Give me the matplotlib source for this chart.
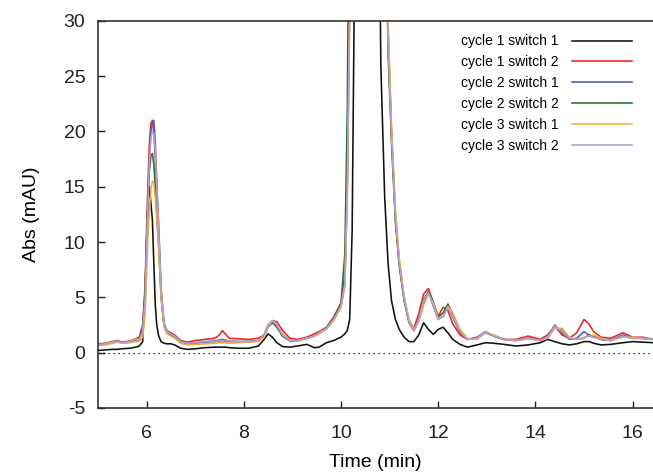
import matplotlib
matplotlib.use("Agg")
import matplotlib.pyplot as plt

plt.rcParams['font.family'] = ['Liberation Sans', 'DejaVu Sans']

# retention time (min), shared by all traces
time = [5.0, 5.15, 5.3, 5.4, 5.5, 5.65, 5.78,
        5.85, 5.92, 5.97, 6.0, 6.03, 6.06, 6.09, 6.12, 6.15, 6.18, 6.21, 6.25, 6.3, 6.36, 6.42,
        6.5, 6.58, 6.7, 6.85, 7.0, 7.2, 7.4, 7.5, 7.56, 7.62, 7.7, 7.9, 8.1, 8.3,
        8.42, 8.5, 8.59, 8.68, 8.8, 8.95, 9.1,
        9.3, 9.45, 9.55, 9.7, 9.85, 10.0, 10.08, 10.13, 10.18, 10.23, 10.28,
        10.35, 10.45, 10.55, 10.65, 10.75,
        10.82, 10.9, 10.97, 11.04, 11.12, 11.2, 11.3, 11.4, 11.5,
        11.6, 11.7, 11.8, 11.9, 12.0, 12.1, 12.2, 12.3, 12.45, 12.6, 12.8, 12.97, 13.15, 13.35,
        13.6, 13.85, 14.1, 14.25, 14.4, 14.55, 14.7, 14.85, 15.0, 15.1, 15.2, 15.35, 15.55,
        15.8, 16.0, 16.2, 16.45]

c1s1 = [0.2, 0.25, 0.3, 0.3, 0.35, 0.4, 0.5,
        0.6, 1.0, 5.5, 10.0, 13.5, 15.0, 13.5, 12.0, 8.0, 4.3, 2.5, 1.5, 1.0, 0.85, 0.8,
        0.8, 0.7, 0.4, 0.3, 0.35, 0.45, 0.5, 0.5, 0.5, 0.5, 0.45, 0.4, 0.4, 0.6,
        1.2, 1.7, 1.4, 0.9, 0.55, 0.5, 0.6,
        0.75, 0.45, 0.5, 0.9, 1.1, 1.4, 1.7, 2.0, 3.0, 11.0, 35.0,
        80.0, 120.0, 130.0, 100.0, 60.0,
        26.0, 14.0, 8.0, 4.7, 3.0, 2.1, 1.4, 1.0, 1.0,
        1.6, 2.7, 2.1, 1.65, 2.1, 2.3, 1.8, 1.2, 0.75, 0.5, 0.7, 0.9, 0.85, 0.75,
        0.6, 0.7, 0.9, 1.2, 1.0, 0.8, 0.7, 0.8, 1.0, 1.0, 0.85, 0.7, 0.75,
        0.9, 1.0, 0.95, 0.9]

c1s2 = [0.8, 0.85, 1.0, 1.1, 0.95, 1.05, 1.25,
        1.4, 2.5, 6.0, 11.0, 15.5, 19.0, 20.7, 21.0, 20.0, 17.5, 14.5, 10.5, 5.2, 2.5, 1.9,
        1.8, 1.6, 1.1, 0.95, 1.1, 1.2, 1.3, 1.6, 2.0, 1.7, 1.3, 1.25, 1.2, 1.3,
        1.6, 2.4, 2.9, 2.8, 2.0, 1.3, 1.2,
        1.4, 1.7, 1.9, 2.3, 3.2, 4.5, 7.0, 15.0, 35.0, 65.0, 100.0,
        130.0, 160.0, 170.0, 150.0, 112.0,
        76.0, 46.0, 29.0, 20.0, 12.5, 8.2, 4.9, 2.9, 2.2,
        3.5, 5.3, 5.8, 4.5, 3.3, 4.1, 3.8, 2.6, 1.6, 1.2, 1.4, 1.9, 1.5, 1.2,
        1.2, 1.5, 1.2, 1.6, 2.4, 1.6, 1.3, 1.8, 3.0, 2.6, 1.9, 1.4, 1.3,
        1.8, 1.4, 1.4, 1.2]

c2s1 = [0.75, 0.8, 0.95, 1.05, 0.9, 1.0, 1.2,
        1.2, 1.9, 4.8, 9.5, 14.0, 17.5, 20.0, 20.8, 21.0, 19.0, 15.5, 11.5, 5.8, 2.7, 2.0,
        1.75, 1.5, 1.0, 0.85, 0.9, 1.0, 1.05, 1.15, 1.2, 1.15, 1.05, 1.0, 1.0, 1.1,
        1.5, 2.3, 2.7, 2.3, 1.5, 1.1, 1.1,
        1.3, 1.5, 1.8, 2.2, 3.0, 4.2, 6.2, 15.0, 32.0, 60.0, 95.0,
        130.0, 160.0, 170.0, 150.0, 110.0,
        75.0, 45.0, 28.0, 19.7, 12.0, 8.0, 4.8, 2.8, 2.0,
        3.0, 4.8, 5.5, 4.2, 3.0, 3.3, 4.2, 3.2, 1.8, 1.2, 1.3, 1.9, 1.5, 1.2,
        1.1, 1.3, 1.1, 1.4, 2.5, 1.8, 1.2, 1.3, 1.9, 1.6, 1.4, 1.2, 1.1,
        1.6, 1.3, 1.3, 1.2]

c2s2 = [0.7, 0.75, 0.9, 1.0, 0.85, 0.95, 1.15,
        1.2, 2.2, 5.5, 10.0, 14.0, 16.5, 17.8, 18.0, 17.0, 15.0, 12.5, 9.5, 5.0, 2.4, 1.8,
        1.6, 1.4, 0.95, 0.8, 0.85, 0.95, 1.0, 1.05, 1.1, 1.05, 1.0, 1.0, 1.0, 1.05,
        1.6, 2.5, 2.85, 2.4, 1.5, 1.05, 1.05,
        1.3, 1.5, 1.8, 2.2, 3.1, 4.4, 9.0, 22.0, 50.0, 80.0, 110.0,
        135.0, 160.0, 168.0, 148.0, 108.0,
        74.0, 44.0, 27.0, 19.0, 11.8, 7.8, 4.7, 2.7, 2.0,
        2.9, 4.5, 5.5, 4.6, 3.2, 3.6, 4.4, 3.5, 2.0, 1.2, 1.3, 1.8, 1.5, 1.2,
        1.1, 1.3, 1.1, 1.3, 2.3, 2.0, 1.3, 1.2, 1.3, 1.6, 1.5, 1.2, 1.1,
        1.5, 1.3, 1.3, 1.2]

c3s1 = [0.65, 0.7, 0.85, 0.95, 0.85, 0.9, 1.0,
        1.0, 1.4, 3.5, 7.0, 10.5, 13.0, 14.8, 15.5, 15.3, 14.0, 12.0, 9.5, 5.0, 2.3, 1.7,
        1.5, 1.3, 0.85, 0.7, 0.75, 0.8, 0.85, 0.9, 0.9, 0.9, 0.85, 0.9, 0.95, 1.0,
        1.4, 2.3, 2.9, 2.6, 1.7, 1.1, 1.05,
        1.3, 1.5, 1.7, 2.1, 2.9, 4.1, 6.0, 14.0, 30.0, 58.0, 92.0,
        128.0, 158.0, 170.0, 152.0, 114.0,
        78.0, 48.0, 30.0, 20.5, 13.0, 8.5, 5.1, 3.0, 2.1,
        2.8, 4.3, 5.3, 4.5, 3.1, 3.2, 4.2, 3.6, 2.1, 1.3, 1.2, 1.8, 1.6, 1.2,
        1.1, 1.3, 1.1, 1.3, 2.2, 2.2, 1.4, 1.2, 1.3, 1.5, 1.6, 1.3, 1.1,
        1.4, 1.4, 1.3, 1.2]

c3s2 = [0.75, 0.8, 0.95, 1.05, 0.9, 1.0, 1.2,
        1.2, 1.9, 4.8, 9.3, 13.8, 17.2, 19.4, 20.0, 19.8, 18.2, 15.0, 11.0, 5.6, 2.6, 1.9,
        1.7, 1.5, 1.0, 0.85, 0.9, 1.0, 1.0, 1.1, 1.1, 1.1, 1.05, 1.0, 1.0, 1.1,
        1.6, 2.5, 2.9, 2.5, 1.6, 1.1, 1.1,
        1.3, 1.5, 1.8, 2.2, 3.0, 4.2, 6.2, 15.0, 32.0, 60.0, 95.0,
        130.0, 160.0, 170.0, 150.0, 110.0,
        75.0, 45.0, 28.0, 19.7, 12.2, 8.1, 4.9, 2.8, 2.0,
        3.0, 4.7, 5.4, 4.3, 3.0, 3.3, 4.1, 3.3, 1.9, 1.2, 1.3, 1.9, 1.5, 1.2,
        1.1, 1.3, 1.1, 1.4, 2.4, 1.9, 1.3, 1.2, 1.4, 1.5, 1.4, 1.2, 1.1,
        1.5, 1.3, 1.3, 1.2]

labels = ['cycle 1 switch 1', 'cycle 1 switch 2', 'cycle 2 switch 1',
          'cycle 2 switch 2', 'cycle 3 switch 1', 'cycle 3 switch 2']
colors = ['#111111', '#f02020', '#4a5fb5', '#2a6e3c', '#f5ab35', '#b4a0d2']
series = [c1s1, c1s2, c2s1, c2s2, c3s1, c3s2]

fig = plt.figure(figsize=(6.53, 4.72), dpi=100)
ax = fig.add_axes([0.150, 0.1356, 0.85, 0.8205])

ax.axhline(0, color='black', lw=0.9, ls=(0, (1, 3)))
for y, lab, col in zip(series, labels, colors):
    ax.plot(time, y, color=col, lw=1.15, label=lab)

ax.set_xlim(5, 16.42)
ax.set_ylim(-5, 30)
ax.set_xticks([6, 8, 10, 12, 14, 16])
ax.set_yticks([-5, 0, 5, 10, 15, 20, 25, 30])
ax.set_yticklabels(['-5', '0', '5', '10', '15', '20', '25', '30'])
ax.tick_params(direction='in', length=5, width=1, labelsize=14, colors='#222222')
ax.tick_params(axis='x', pad=12)
ax.tick_params(axis='y', pad=9)
ax.set_xlabel('Time (min)', fontsize=14, labelpad=9)
ax.set_ylabel('Abs (mAU)', fontsize=14, labelpad=17)

for s in ['left', 'bottom', 'top']:
    ax.spines[s].set_linewidth(1.2)
    ax.spines[s].set_color('#333333')
ax.spines['right'].set_visible(False)

leg = ax.legend(loc='upper right', frameon=False, fontsize=10, markerfirst=False,
                handlelength=4.3, handletextpad=1.0, labelspacing=0.5,
                bbox_to_anchor=(0.985, 0.997))

fig.savefig('out.png', dpi=100)
